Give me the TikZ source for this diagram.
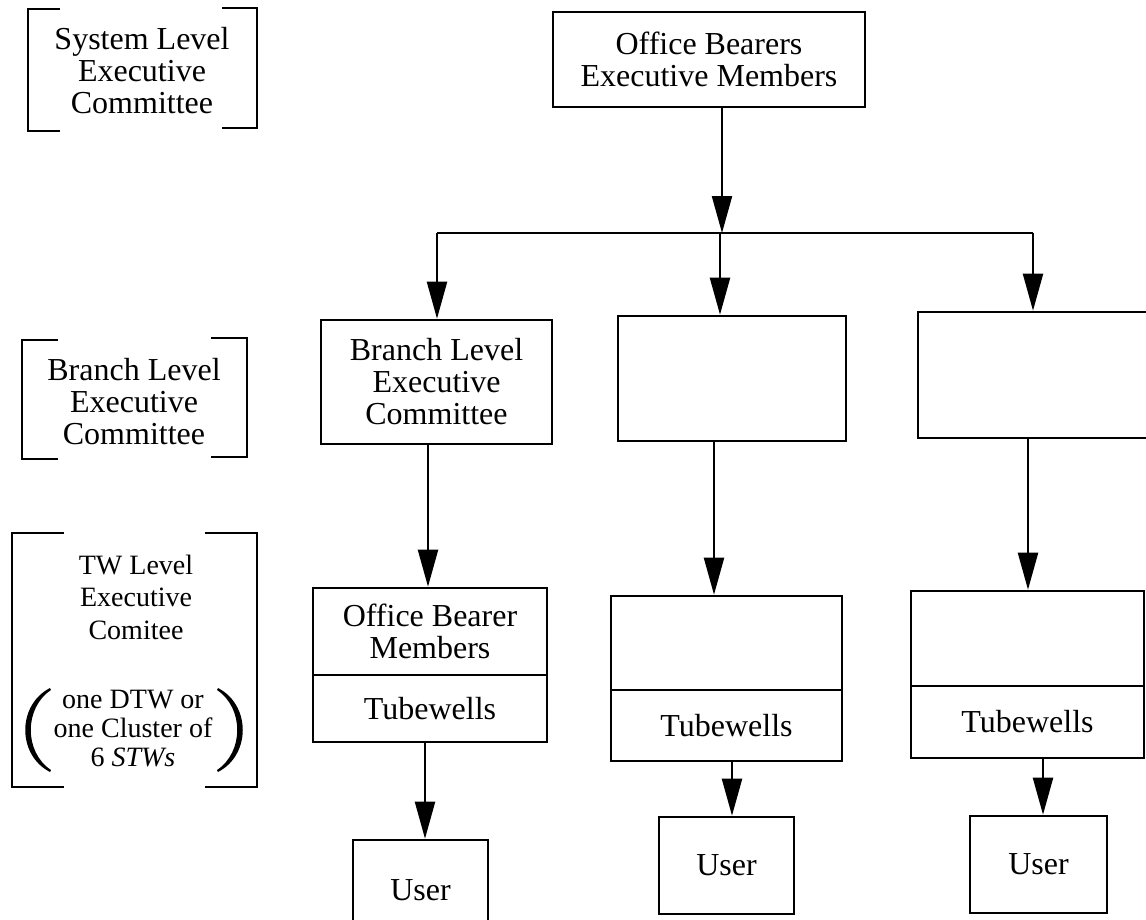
\documentclass[tikz,border=0pt]{standalone}
\usepackage{fontspec}
\setmainfont{Liberation Serif}
\usetikzlibrary{arrows.meta,calc}
\begin{document}
\begin{tikzpicture}[x=1pt,y=-1pt,
  txt/.style={font=\fontsize{32}{32}\selectfont, align=center, inner sep=0pt},
  small/.style={font=\fontsize{28}{32.5}\selectfont, align=center, inner sep=0pt},
  smaller/.style={font=\fontsize{28}{29}\selectfont, align=center, inner sep=0pt},
  box/.style 2 args={txt, draw, line width=2.6pt, minimum width=#1, minimum height=#2},
  brk/.style={line width=2.6pt},
  wire/.style={line width=2.2pt},
  arr/.style={line width=2.2pt, -{Triangle[length=37pt,width=20pt]}}
]
\useasboundingbox (0,0) rectangle (1146,919);
\clip (0,0) rectangle (1146,919);

% ---- level labels on the left ----
\node[txt] (lsys) at (142,71) {System Level\\Executive\\Committee};
\draw[brk] (60,9) -- (28,9) -- (28,131) -- (60,131);
\draw[brk] (222,8) -- (257,8) -- (257,128) -- (222,128);

\node[txt] (lbr) at (134,402) {Branch Level\\Executive\\Committee};
\draw[brk] (58,340) -- (22,340) -- (22,459) -- (58,459);
\draw[brk] (211,338) -- (247,338) -- (247,457) -- (211,457);

\node[small] (ltw) at (136,597) {TW Level\\Executive\\Comitee};
\node[smaller] (lnote) at (133,729) {one DTW or\\one Cluster of\\6 \textit{STWs}};
\draw[brk] (64,533) -- (12,533) -- (12,787) -- (64,787);
\draw[brk] (205,533) -- (257,533) -- (257,787) -- (205,787);
% parentheses round the note
\fill (50,688) .. controls (17,705) and (17,755) .. (50,772)
      -- (51,770) .. controls (24,752) and (24,708) .. (51,690) -- cycle;
\fill (218,688) .. controls (251,705) and (251,755) .. (218,772)
      -- (217,770) .. controls (244,752) and (244,708) .. (217,690) -- cycle;

% ---- system level ----
\node[box={312}{95}] (top) at (709,59.5) {Office Bearers\\Executive Members};
\coordinate (hub) at (722,233);
\coordinate (jl) at (437,233);
\coordinate (jm) at (720,233);
\coordinate (jr) at (1033,233);
\draw[wire] (jl) -- (jr);
\draw[arr] (top.south -| hub) -- (hub);

% ---- branch level ----
\node[box={231}{124}] (b1) at (436.5,382) {Branch Level\\Executive\\Committee};
\node[box={228}{125}] (b2) at (732,378.5) {};
\node[box={242}{126}] (b3) at (1039,375) {};
\draw[arr] (jl) -- (jl |- b1.north);
\draw[arr] (jm) -- (jm |- b2.north);
\draw[arr] (jr) -- (jr |- b3.north);

% ---- tubewell level ----
\node[box={234}{87}] (t1) at (430,631.5) {Office Bearer\\Members};
\node[box={234}{67}] (w1) at (430,708.5) {Tubewells};
\node[box={231}{94}] (t2) at (726.5,643) {};
\node[box={231}{71}] (w2) at (726.5,725.5) {Tubewells};
\node[box={233}{95}] (t3) at (1027.5,638.5) {};
\node[box={233}{72}] (w3) at (1027.5,722) {Tubewells};

\coordinate (c1) at (428,0);
\coordinate (c2) at (714,0);
\coordinate (c3) at (1028,0);
\draw[arr] (b1.south -| c1) -- (t1.north -| c1);
\draw[arr] (b2.south -| c2) -- (t2.north -| c2);
\draw[arr] (b3.south -| c3) -- (t3.north -| c3);

% ---- users ----
\node[box={135}{100}] (u1) at (420.5,890) {User};
\node[box={135}{97}] (u2) at (726.5,865.5) {User};
\node[box={137}{97}] (u3) at (1038.5,864.5) {User};

\coordinate (d1) at (425,0);
\coordinate (d2) at (732,0);
\coordinate (d3) at (1043,0);
\draw[arr] (w1.south -| d1) -- (u1.north -| d1);
\draw[arr] (w2.south -| d2) -- (u2.north -| d2);
\draw[arr] (w3.south -| d3) -- (u3.north -| d3);
\end{tikzpicture}
\end{document}
